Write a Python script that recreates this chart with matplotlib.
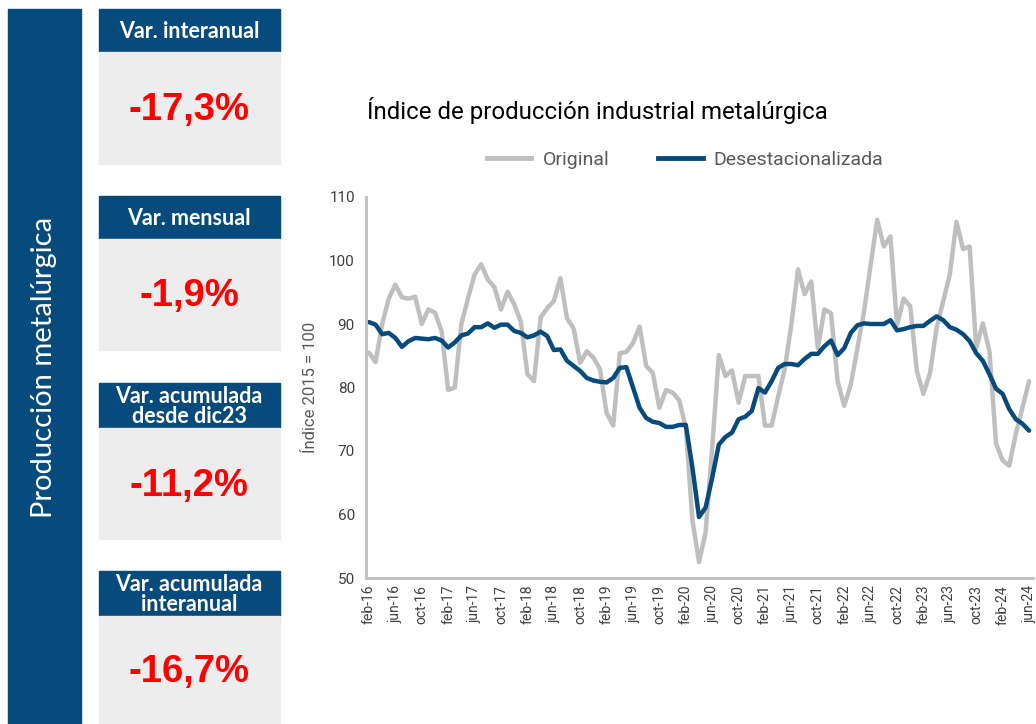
import numpy as np
import matplotlib
matplotlib.use('Agg')
import matplotlib.pyplot as plt
from matplotlib.patches import Rectangle
from matplotlib.lines import Line2D

# Serie original y desestacionalizada, mensual de feb-16 a jun-24
original = [
    85.5, 84.0, 90.0, 94.0, 96.2, 94.2, 94.0, 94.3, 90.0, 92.3, 91.8,
    88.9, 79.6, 80.0, 90.0, 94.0, 97.8, 99.4, 97.0, 95.8, 92.3, 95.1, 93.1,
    90.4, 82.1, 81.0, 91.0, 92.5, 93.6, 97.2, 90.9, 89.3, 83.9, 85.7, 84.7,
    82.9, 76.0, 74.0, 85.4, 85.6, 87.0, 89.6, 83.4, 82.3, 76.8, 79.6, 79.2,
    78.0, 73.7, 59.1, 52.5, 57.2, 70.5, 85.1, 81.8, 82.7, 77.6, 81.8, 81.8,
    81.8, 74.0, 74.0, 78.6, 83.0, 90.0, 98.6, 94.7, 96.7, 86.2, 92.3, 91.7,
    81.0, 77.1, 80.5, 86.2, 92.0, 99.3, 106.4, 102.2, 103.8, 89.8, 94.0, 92.8,
    82.6, 79.0, 82.3, 89.4, 93.6, 97.8, 106.1, 101.8, 102.2, 86.2, 90.1, 85.7,
    71.2, 68.5, 67.7, 72.7, 76.8, 81.0,
]
desestacionalizada = [
    90.3, 89.9, 88.4, 88.6, 87.8, 86.4, 87.3, 87.8, 87.7, 87.6, 87.8,
    87.4, 86.3, 87.1, 88.2, 88.5, 89.5, 89.5, 90.1, 89.4, 89.9, 89.9, 88.9,
    88.6, 87.9, 88.2, 88.8, 88.1, 85.9, 86.0, 84.2, 83.4, 82.6, 81.5, 81.1,
    80.9, 80.8, 81.5, 83.1, 83.2, 80.0, 76.8, 75.2, 74.6, 74.4, 73.8, 73.8,
    74.1, 74.1, 67.4, 59.6, 61.1, 65.8, 71.0, 72.2, 72.9, 75.0, 75.4, 76.3,
    79.9, 79.2, 81.0, 83.1, 83.7, 83.7, 83.5, 84.5, 85.3, 85.3, 86.5, 87.4,
    85.1, 86.2, 88.6, 89.8, 90.1, 90.0, 90.0, 90.0, 90.6, 89.0, 89.2, 89.5,
    89.7, 89.7, 90.5, 91.2, 90.6, 89.5, 89.1, 88.4, 87.3, 85.4, 84.2, 82.1,
    79.8, 79.0, 76.6, 75.0, 74.3, 73.2,
]
meses = ['ene', 'feb', 'mar', 'abr', 'may', 'jun',
         'jul', 'ago', 'sep', 'oct', 'nov', 'dic']

# Indicadores del panel izquierdo
titulos = ['Var. interanual', 'Var. mensual',
           'Var. acumulada\ndesde dic23', 'Var. acumulada\ninteranual']
valores = ['-17,3%', '-1,9%', '-11,2%', '-16,7%']

AZUL = '#074b7c'
GRIS = '#bfbfbf'
W, H = 1036, 724

# etiquetas de meses (feb-16 ... jun-24)
etiquetas = []
for k in range(len(original)):
    m = (1 + k) % 12
    a = 16 + (1 + k) // 12
    etiquetas.append('{}-{}'.format(meses[m], a))

fig = plt.figure(figsize=(W / 100, H / 100), dpi=100)
fig.patch.set_facecolor('white')

def fx(px):
    return px / W

def fy(py):
    return 1 - py / H

# barra lateral
fig.patches.append(Rectangle((fx(8), fy(724)), fx(81) - fx(8), fy(9) - fy(724),
                             transform=fig.transFigure, color=AZUL, zorder=0))
fig.text(fx(44), fy(367), 'Producción metalúrgica', rotation=90, color='white',
         fontsize=21, family='Lato', ha='center', va='center')

# cajas de indicadores: (top cabecera, fin cabecera, fin cuerpo)
cajas = [(9, 52, 164), (196, 239, 350), (383, 428, 539), (571, 616, 724)]
for (t, h, b), tit, val in zip(cajas, titulos, valores):
    fig.patches.append(Rectangle((fx(99), fy(h)), fx(280) - fx(99), fy(t) - fy(h),
                                 transform=fig.transFigure, color=AZUL, zorder=0))
    fig.patches.append(Rectangle((fx(99), fy(b)), fx(280) - fx(99), fy(h) - fy(b),
                                 transform=fig.transFigure, color='#ededed', zorder=0))
    fig.text(fx(189), fy((t + h) / 2 + 1), tit, color='white', fontsize=15.5,
             family='Lato', weight='bold', ha='center', va='center', linespacing=0.92)
    fig.text(fx(189), fy((h + b) / 2 + 2), val, color='#ff0000', fontsize=27.5,
             family='Liberation Sans', weight='bold', ha='center', va='center')

# gráfico
ax = fig.add_axes([fx(366), fy(578), fx(1033) - fx(366), fy(197) - fy(578)])
x = np.arange(len(original))
ax.plot(x, original, color=GRIS, lw=3.2, solid_capstyle='round', solid_joinstyle='round')
ax.plot(x, desestacionalizada, color=AZUL, lw=3.2, solid_capstyle='round', solid_joinstyle='round')

ax.set_xlim(-0.45, 100.6)
ax.set_ylim(50, 110)
ax.set_yticks(range(50, 111, 10))
ax.set_xticks(x[::4])
ax.set_xticklabels(etiquetas[::4], rotation=90, family='Roboto', fontsize=10, color='#404040')
for lab in ax.get_yticklabels():
    lab.set_family('Roboto')
    lab.set_fontsize(11)
    lab.set_color('#404040')
ax.tick_params(length=0, pad=8)
ax.tick_params(axis='x', pad=5)
for s in ['top', 'right']:
    ax.spines[s].set_visible(False)
for s in ['left', 'bottom']:
    ax.spines[s].set_color(GRIS)
    ax.spines[s].set_linewidth(2)
ax.set_ylabel('Índice 2015 = 100', family='Roboto', fontsize=12, color='#595959', labelpad=8)

fig.text(fx(367), fy(111), 'Índice de producción industrial metalúrgica',
         family='Roboto', fontsize=17.3, color='black', ha='left', va='center')

handles = [Line2D([], [], color=GRIS, lw=3.5), Line2D([], [], color=AZUL, lw=3.5)]
fig.legend(handles, ['Original', 'Desestacionalizada'], loc='center',
           bbox_to_anchor=(fx(685), fy(160)), ncol=2, frameon=False,
           handlelength=2.3, columnspacing=2.5, handletextpad=0.57,
           prop={'family': 'Roboto', 'size': 14}, labelcolor='#595959')

fig.savefig('out.png', dpi=100, facecolor='white')
